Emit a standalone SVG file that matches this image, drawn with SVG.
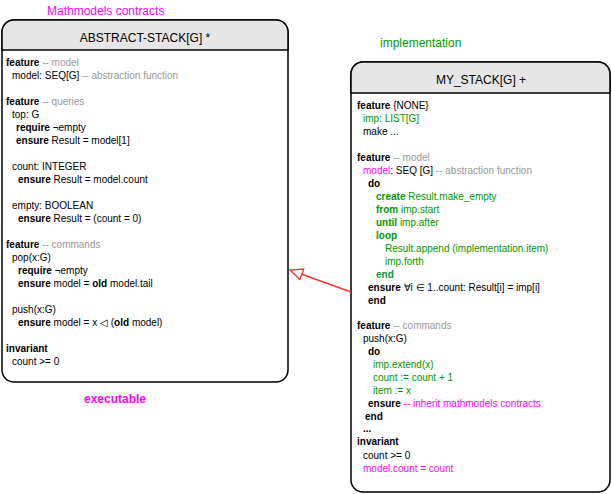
<svg xmlns="http://www.w3.org/2000/svg" width="612" height="494" viewBox="0 0 612 494">
<defs>
<style>
text{font-family:"Liberation Sans",Arial,Helvetica,sans-serif;font-size:10px;fill:#000}
.b{font-weight:bold}
.c{fill:#999999}
.g{fill:#009900}
.gb{fill:#009900;font-weight:bold}
.m{fill:#FF00FF}
.t{font-size:12px;text-anchor:middle}
.box{fill:#ffffff;stroke:#000;stroke-width:1.5}
.hdr{fill:#e6e6e6;stroke:#000;stroke-width:1.5}
</style>
<marker id="tri" viewBox="0 0 20 20" refX="19" refY="10" markerWidth="14" markerHeight="14" markerUnits="userSpaceOnUse" orient="auto">
<path d="M1,2 L19,10 L1,18 Z" fill="#fff" stroke="#FF3333" stroke-width="2"/>
</marker>
</defs>

<text x="47" y="15" class="m" style="font-size:12px">Mathmodels contracts</text>
<text x="380" y="47" class="g" style="font-size:12px">implementation</text>
<text x="84" y="403" class="m b" style="font-size:12px">executable</text>

<g id="abstract-stack">
<rect x="2" y="20" width="286" height="362" rx="12" class="box"/>
<path d="M2,50 L2,32 A12,12 0 0 1 14,20 L276,20 A12,12 0 0 1 288,32 L288,50 Z" class="hdr"/>
<text x="145" y="42" class="t">ABSTRACT-STACK[G] *</text>
<text x="6" y="66"><tspan class="b">feature</tspan><tspan class="c"> -- model</tspan></text>
<text x="12" y="79">model: SEQ[G]<tspan class="c"> -- abstraction function</tspan></text>
<text x="6" y="105"><tspan class="b">feature</tspan><tspan class="c"> -- queries</tspan></text>
<text x="12" y="118">top: G</text>
<text x="16" y="131"><tspan class="b">require</tspan> ¬empty</text>
<text x="16" y="144"><tspan class="b">ensure</tspan> Result = model[1]</text>
<text x="12" y="170">count: INTEGER</text>
<text x="18" y="183"><tspan class="b">ensure</tspan> Result = model.count</text>
<text x="12" y="209">empty: BOOLEAN</text>
<text x="18" y="222"><tspan class="b">ensure</tspan> Result = (count = 0)</text>
<text x="6" y="248"><tspan class="b">feature</tspan><tspan class="c"> -- commands</tspan></text>
<text x="12" y="261">pop(x:G)</text>
<text x="18" y="274"><tspan class="b">require</tspan> ¬empty</text>
<text x="18" y="287"><tspan class="b">ensure</tspan> model = <tspan class="b">old</tspan> model.tail</text>
<text x="12" y="313">push(x:G)</text>
<text x="18" y="326"><tspan class="b">ensure</tspan> model = x  ◁ (<tspan class="b">old</tspan> model)</text>
<text x="6" y="352" class="b">invariant</text>
<text x="12" y="365">count &gt;= 0</text>
</g>

<g id="my-stack">
<rect x="351" y="62" width="259" height="430" rx="12" class="box"/>
<path d="M351,93 L351,74 A12,12 0 0 1 363,62 L598,62 A12,12 0 0 1 610,74 L610,93 Z" class="hdr"/>
<text x="481" y="84" class="t">MY_STACK[G] +</text>
<text x="357" y="109"><tspan class="b">feature</tspan> {NONE}</text>
<text x="363" y="122" class="g">imp: LIST[G]</text>
<text x="363" y="135">make ...</text>
<text x="357" y="161"><tspan class="b">feature</tspan><tspan class="c"> -- model</tspan></text>
<text x="363" y="174"><tspan class="m">model</tspan>: SEQ [G]<tspan class="c"> -- abstraction function</tspan></text>
<text x="368" y="187" class="b">do</text>
<text x="376" y="200" class="g"><tspan class="b">create</tspan> Result.make_empty</text>
<text x="376" y="213" class="g"><tspan class="b">from</tspan> imp.start</text>
<text x="376" y="226" class="g"><tspan class="b">until</tspan> imp.after</text>
<text x="376" y="239" class="gb">loop</text>
<text x="385" y="252" class="g">Result.append (implementation.item)</text>
<text x="385" y="265" class="g">imp.forth</text>
<text x="376" y="278" class="b" style="fill:#009944">end</text>
<text x="368" y="291"><tspan class="b">ensure</tspan> ∀i ∈ 1..count: Result[i] = imp[i]</text>
<text x="368" y="304" class="b">end</text>
<text x="357" y="329"><tspan class="b">feature</tspan><tspan class="c"> -- commands</tspan></text>
<text x="363" y="342">push(x:G)</text>
<text x="368" y="355" class="b">do</text>
<text x="373" y="368" class="g">imp.extend(x)</text>
<text x="373" y="381" class="g">count := count + 1</text>
<text x="373" y="394" class="g">item := x</text>
<text x="368" y="407"><tspan class="b">ensure</tspan><tspan class="m"> -- inherit mathmodels contracts</tspan></text>
<text x="365" y="420" class="b">end</text>
<text x="363" y="432" class="b">...</text>
<text x="357" y="445" class="b">invariant</text>
<text x="363" y="459">count &gt;= 0</text>
<text x="363" y="472" class="m">model.count = count</text>
</g>

<g id="connectors">
<line x1="351" y1="292" x2="290" y2="270" stroke="#FF3333" stroke-width="1.5" marker-end="url(#tri)"/>
</g>
</svg>
